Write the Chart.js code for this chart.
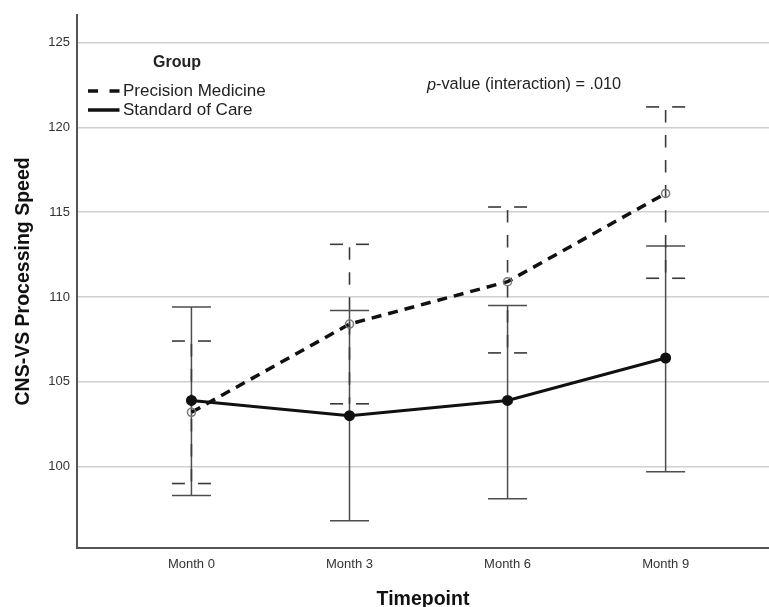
<!DOCTYPE html>
<html>
<head>
<meta charset="utf-8">
<script src="https://cdn.jsdelivr.net/npm/chart.js@4"></script>
<style>
  html, body { margin: 0; padding: 0; background: #fff; }
  #wrap { width: 769px; height: 607px; }
</style>
</head>
<body>
<div id="wrap"><canvas id="myChart" width="769" height="607"></canvas></div>
<script>
const timepoints = ['Month 0', 'Month 3', 'Month 6', 'Month 9'];
const precisionMean = [103.2, 108.4, 110.9, 116.1];
const precisionLow = [99.0, 103.7, 106.7, 111.1];
const precisionHigh = [107.4, 113.1, 115.3, 121.2];
const careMean = [103.9, 103.0, 103.9, 106.4];
const careLow = [98.3, 96.8, 98.1, 99.7];
const careHigh = [109.4, 109.2, 109.5, 113.0];
const yTicks = [100, 105, 110, 115, 120, 125];

const FONT = "'Liberation Sans', Arial, sans-serif";
const capHalf = 19.5;

// error bars drawn under the lines
const errorBars = {
  id: 'errorBars',
  beforeDatasetsDraw(chart) {
    const { ctx, scales: { x, y } } = chart;
    ctx.save();
    ctx.lineCap = 'butt';
    timepoints.forEach((_, i) => {
      const px = x.getPixelForValue(i);
      const top = y.getPixelForValue(careHigh[i]);
      const bot = y.getPixelForValue(careLow[i]);
      ctx.strokeStyle = '#4d4d4d';
      ctx.lineWidth = 1.5;
      ctx.setLineDash([]);
      ctx.beginPath();
      ctx.moveTo(px, top); ctx.lineTo(px, bot);
      ctx.moveTo(px - capHalf, top); ctx.lineTo(px + capHalf, top);
      ctx.moveTo(px - capHalf, bot); ctx.lineTo(px + capHalf, bot);
      ctx.stroke();
    });
    timepoints.forEach((_, i) => {
      const px = x.getPixelForValue(i);
      const top = y.getPixelForValue(precisionHigh[i]);
      const bot = y.getPixelForValue(precisionLow[i]);
      ctx.strokeStyle = '#3a3a3a';
      ctx.lineWidth = 1.6;
      // caps: dash - gap - dash
      ctx.setLineDash([13, 13]);
      ctx.lineDashOffset = 0;
      [top, bot].forEach(py => {
        ctx.beginPath();
        ctx.moveTo(px - capHalf, py); ctx.lineTo(px + capHalf, py);
        ctx.stroke();
      });
      // dashed stem
      ctx.setLineDash([12.5, 12.5]);
      ctx.lineDashOffset = 22;
      ctx.beginPath();
      ctx.moveTo(px, top); ctx.lineTo(px, bot);
      ctx.stroke();
    });
    ctx.restore();
  }
};

// legend and annotation text
const annotations = {
  id: 'annotations',
  afterDraw(chart) {
    const { ctx } = chart;
    ctx.save();
    ctx.fillStyle = '#222';
    ctx.textBaseline = 'middle';
    ctx.font = 'bold 16px ' + FONT;
    ctx.textAlign = 'left';
    ctx.fillText('Group', 153, 63);

    ctx.font = '17px ' + FONT;
    ctx.fillText('Precision Medicine', 123, 91);
    ctx.fillText('Standard of Care', 123, 110);

    ctx.strokeStyle = '#111';
    ctx.lineWidth = 3.5;
    ctx.setLineDash([10, 11.5]);
    ctx.beginPath();
    ctx.moveTo(88, 91); ctx.lineTo(119.5, 91);
    ctx.stroke();
    ctx.setLineDash([]);
    ctx.beginPath();
    ctx.moveTo(88, 110); ctx.lineTo(119.5, 110);
    ctx.stroke();

    ctx.font = 'italic 16.3px ' + FONT;
    ctx.fillText('p', 427, 85);
    const pw = ctx.measureText('p').width;
    ctx.font = '16.3px ' + FONT;
    ctx.fillText('-value (interaction) = .010', 427 + pw, 85);
    ctx.restore();
  }
};

const ctx = document.getElementById('myChart');
const myChart = new Chart(ctx, {
  type: 'line',
  data: {
    datasets: [
      {
        label: 'Standard of Care',
        data: careMean.map((v, i) => ({ x: i, y: v })),
        borderColor: '#111',
        borderWidth: 3,
        pointRadius: 4,
        pointBackgroundColor: '#111',
        pointBorderColor: '#111',
        tension: 0,
      },
      {
        label: 'Precision Medicine',
        data: precisionMean.map((v, i) => ({ x: i, y: v })),
        borderColor: '#111',
        borderWidth: 3.5,
        borderDash: [10, 7],
        pointRadius: 4,
        pointBorderWidth: 1.5,
        pointBackgroundColor: 'rgba(255,255,255,0)',
        pointBorderColor: '#777',
        tension: 0,
      },
    ],
  },
  options: {
    responsive: false,
    animation: false,
    events: [],
    layout: { autoPadding: false, padding: { top: 14, left: 0, right: 0, bottom: 0 } },
    plugins: {
      legend: { display: false },
      tooltip: { enabled: false },
    },
    scales: {
      x: {
        type: 'linear',
        min: -0.724,
        max: 3.654,
        afterBuildTicks: (scale) => { scale.ticks = timepoints.map((_, i) => ({ value: i })); },
        afterFit: (scale) => { scale.height = 59; },
        grid: { display: false, drawTicks: false },
        border: { display: true, color: '#555', width: 2 },
        ticks: {
          callback: (v) => timepoints[v],
          font: { family: FONT, size: 13 },
          color: '#333',
          padding: 9,
          maxRotation: 0,
        },
        title: {
          display: true,
          text: 'Timepoint',
          font: { family: FONT, size: 19.5, weight: 'bold', lineHeight: 0.75 },
          color: '#111',
          padding: { top: 0, bottom: 0 },
        },
      },
      y: {
        min: 95.2,
        max: 126.63,
        afterBuildTicks: (scale) => { scale.ticks = yTicks.map(v => ({ value: v })); },
        afterFit: (scale) => { scale.width = 77; },
        grid: { color: '#d0d0d0', lineWidth: 1.5, drawTicks: false },
        border: { display: true, color: '#555', width: 2 },
        ticks: {
          font: { family: FONT, size: 13 },
          color: '#333',
          padding: 7,
        },
        title: {
          display: true,
          text: 'CNS-VS Processing Speed',
          font: { family: FONT, size: 19.5, weight: 'bold', lineHeight: 1.2 },
          color: '#111',
          padding: { top: 12, bottom: 0 },
        },
      },
    },
  },
  plugins: [errorBars, annotations],
});
</script>
</body>
</html>
